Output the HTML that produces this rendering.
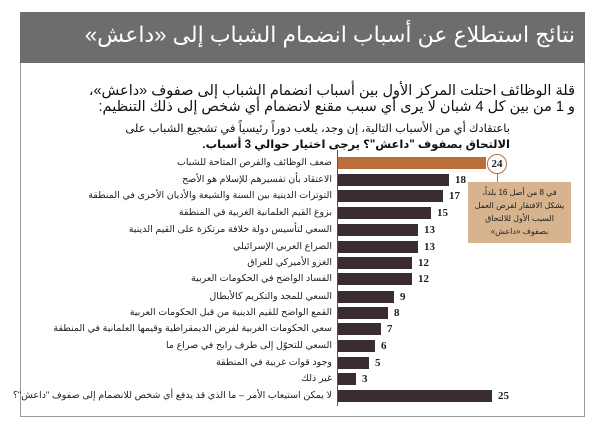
<!DOCTYPE html>
<html lang="ar"><head><meta charset="utf-8"><style>
body{margin:0;width:600px;height:428px;background:#fff;overflow:hidden;font-family:"Liberation Sans","DejaVu Sans",sans-serif;position:relative}
.frame{position:absolute;left:20px;top:12px;width:565px;height:405px;border:1px solid #9a9a9a;box-sizing:border-box}
.hdr{position:absolute;left:20px;top:12px;width:565px;height:51px;background:#6d6d6d}
.ttl{position:absolute;right:25px;top:22px;color:#fff;font-size:22px;direction:rtl;white-space:nowrap}
.t{position:absolute;direction:rtl;white-space:nowrap;color:#111}
.lab{position:absolute;right:268px;direction:rtl;white-space:nowrap;font-size:9.5px;color:#222;line-height:12px}
.bar{position:absolute;left:338px;height:12px;background:#3b2c32}
.val{position:absolute;font-size:11px;font-weight:bold;font-family:"Liberation Serif",serif;color:#222}
</style></head><body>
<div class="frame"></div>
<div class="hdr"></div>
<div class="ttl">نتائج استطلاع عن أسباب انضمام الشباب إلى «داعش»</div>
<div class="t" style="right:25px;top:83px;font-size:14.5px">قلة الوظائف احتلت المركز الأول بين أسباب انضمام الشباب إلى صفوف «داعش»،</div>
<div class="t" style="right:25px;top:99px;font-size:14.5px">و 1 من بين كل 4 شبان لا يرى أي سبب مقنع لانضمام أي شخص إلى ذلك التنظيم:</div>
<div class="t" style="right:90px;top:121px;font-size:11.5px">باعتقادك أي من الأسباب التالية، إن وجد، يلعب دوراً رئيسياً في تشجيع الشباب على</div>
<div class="t" style="right:90px;top:137px;font-size:11.5px;font-weight:bold">الالتحاق بصفوف "داعش"؟ يرجى اختيار حوالي 3 أسباب.</div>
<div style="position:absolute;left:337px;top:150px;width:1px;height:256px;background:#555"></div>
<div class="lab" style="top:157px">ضعف الوظائف والفرص المتاحة للشباب</div>
<div class="lab" style="top:174px">الاعتقاد بأن تفسيرهم للإسلام هو الأصح</div>
<div class="lab" style="top:190px">التوترات الدينية بين السنة والشيعة والأديان الأخرى في المنطقة</div>
<div class="lab" style="top:207px">بزوغ القيم العلمانية الغربية في المنطقة</div>
<div class="lab" style="top:224px">السعي لتأسيس دولة خلافة مرتكزة على القيم الدينية</div>
<div class="lab" style="top:241px">الصراع العربي الإسرائيلي</div>
<div class="lab" style="top:257px">الغزو الأميركي للعراق</div>
<div class="lab" style="top:273px">الفساد الواضح في الحكومات العربية</div>
<div class="lab" style="top:291px">السعي للمجد والتكريم كالأبطال</div>
<div class="lab" style="top:307px">القمع الواضح للقيم الدينية من قبل الحكومات العربية</div>
<div class="lab" style="top:323px">سعي الحكومات الغربية لفرض الديمقراطية وقيمها العلمانية في المنطقة</div>
<div class="lab" style="top:340px">السعي للتحوّل إلى طرف رابح في صراع ما</div>
<div class="lab" style="top:357px">وجود قوات غربية في المنطقة</div>
<div class="lab" style="top:373px">غير ذلك</div>
<div class="lab" style="top:390px">لا يمكن استيعاب الأمر – ما الذي قد يدفع أي شخص للانضمام إلى صفوف "داعش"؟</div>

<div class="bar" style="top:157px;width:148px;background:#b96e3c"></div>
<div class="bar" style="top:174px;width:111px"></div><div class="val" style="top:174px;left:455px">18</div>
<div class="bar" style="top:190px;width:105px"></div><div class="val" style="top:190px;left:449px">17</div>
<div class="bar" style="top:207px;width:93px"></div><div class="val" style="top:207px;left:437px">15</div>
<div class="bar" style="top:224px;width:80px"></div><div class="val" style="top:224px;left:424px">13</div>
<div class="bar" style="top:241px;width:80px"></div><div class="val" style="top:241px;left:424px">13</div>
<div class="bar" style="top:257px;width:74px"></div><div class="val" style="top:257px;left:418px">12</div>
<div class="bar" style="top:273px;width:74px"></div><div class="val" style="top:273px;left:418px">12</div>
<div class="bar" style="top:291px;width:56px"></div><div class="val" style="top:291px;left:400px">9</div>
<div class="bar" style="top:307px;width:50px"></div><div class="val" style="top:307px;left:394px">8</div>
<div class="bar" style="top:323px;width:43px"></div><div class="val" style="top:323px;left:387px">7</div>
<div class="bar" style="top:340px;width:37px"></div><div class="val" style="top:340px;left:381px">6</div>
<div class="bar" style="top:357px;width:31px"></div><div class="val" style="top:357px;left:375px">5</div>
<div class="bar" style="top:373px;width:18px"></div><div class="val" style="top:373px;left:362px">3</div>
<div class="bar" style="top:390px;width:154px"></div><div class="val" style="top:390px;left:498px">25</div>

<div style="position:absolute;left:487px;top:154px;width:18px;height:18px;border:1.5px solid #b96e3c;border-radius:50%;background:#fff;font-size:11px;font-weight:bold;font-family:'Liberation Serif',serif;text-align:center;line-height:18px;color:#222">24</div>
<div style="position:absolute;left:497px;top:174px;width:1px;height:8px;background:#b96e3c"></div>
<div style="position:absolute;left:468px;top:182px;width:103px;height:61px;background:#d8b48e;direction:rtl;text-align:center;font-size:8px;line-height:13px;color:#222;padding:4px 4px 0;box-sizing:border-box">في 8 من أصل 16 بلداً، يشكل الافتقار لفرص العمل السبب الأول للالتحاق بصفوف «داعش»</div>
</body></html>
